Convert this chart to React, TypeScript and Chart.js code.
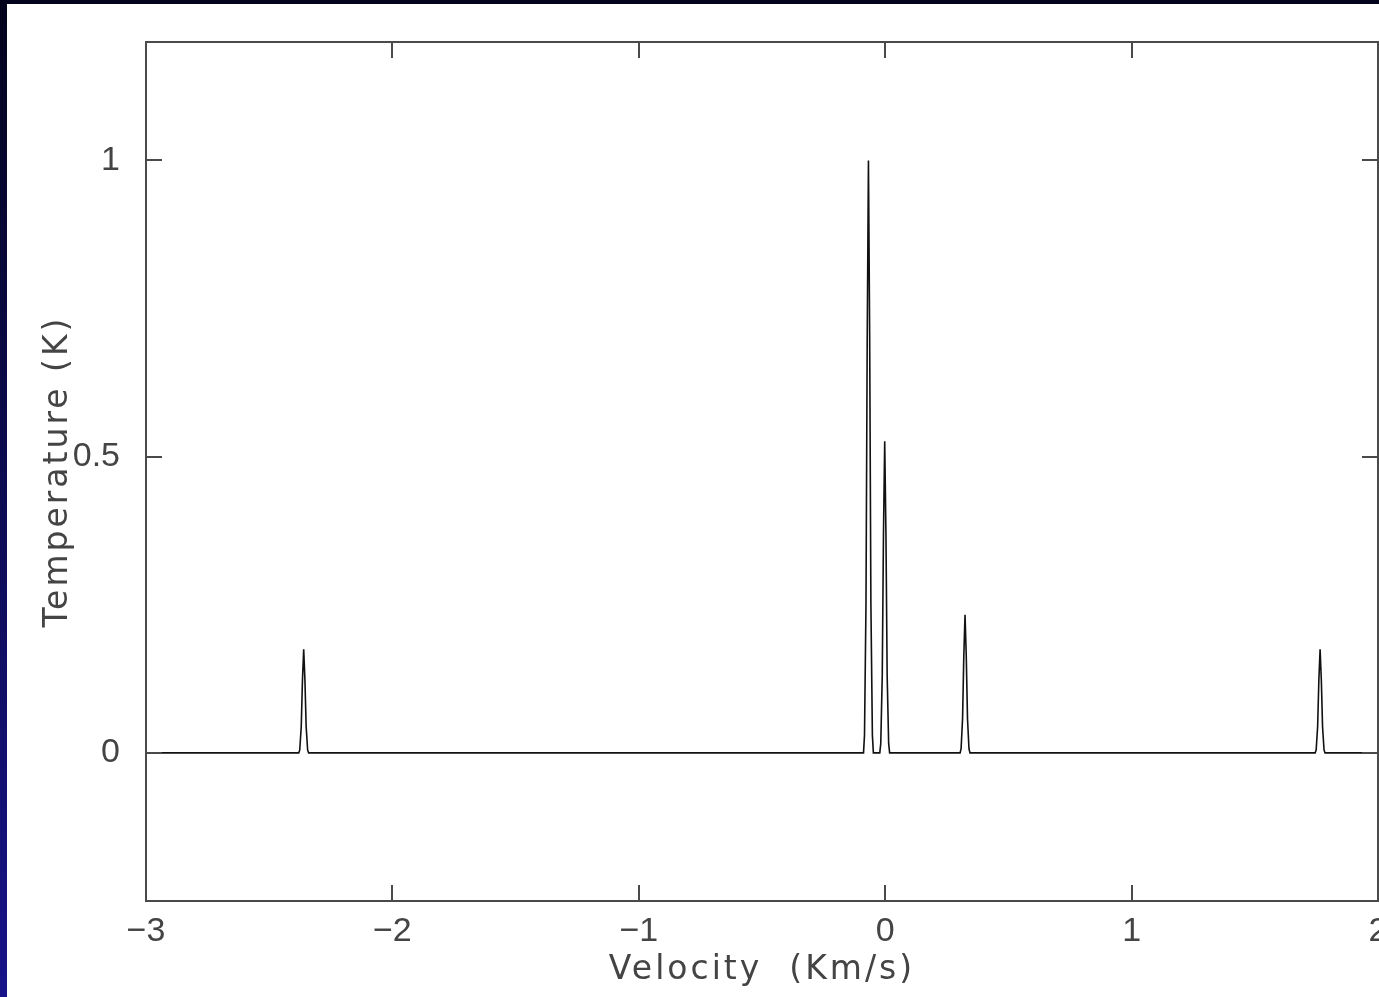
import React, { useEffect, useRef } from 'react';
import { Chart, registerables } from 'chart.js';

Chart.register(...registerables);

// Spectrum samples: velocity (km/s) and antenna temperature (K)
const velocity = [
  -3.0,
  -2.38, -2.376, -2.37, -2.365, -2.36, -2.355, -2.35, -2.344, -2.34,
  -0.088, -0.084, -0.078, -0.073, -0.068, -0.063, -0.058, -0.052, -0.048,
  -0.022, -0.018, -0.012, -0.007, -0.002, 0.003, 0.008, 0.014, 0.018,
  0.304, 0.308, 0.314, 0.319, 0.324, 0.329, 0.334, 0.34, 0.344,
  1.745, 1.749, 1.755, 1.76, 1.765, 1.77, 1.775, 1.781, 1.785,
  2.0,
];
const temperature = [
  0,
  0, 0.005, 0.044, 0.123, 0.175, 0.123, 0.044, 0.005, 0,
  0, 0.03, 0.25, 0.7, 1.0, 0.7, 0.25, 0.03, 0,
  0, 0.016, 0.13, 0.37, 0.526, 0.37, 0.13, 0.016, 0,
  0, 0.007, 0.058, 0.163, 0.233, 0.163, 0.058, 0.007, 0,
  0, 0.005, 0.044, 0.123, 0.175, 0.123, 0.044, 0.005, 0,
  0,
];

const xTicks = [-3, -2, -1, 0, 1, 2];
const yTicks = [0, 0.5, 1];
const xRange = [-3, 2];
const yRange = [-0.25, 1.2];
const xTitle = 'Velocity  (Km/s)';
const yTitle = 'Temperature (K)';

const fmt = (v: number) => (v < 0 ? '\u2212' + String(Math.abs(v)) : String(v));

const slidePlugin = {
  id: 'slide',
  beforeDraw(chart: any) {
    const { ctx, width, height } = chart;
    ctx.save();
    const g = ctx.createLinearGradient(0, 0, 0, height);
    g.addColorStop(0, '#03031c');
    g.addColorStop(1, '#17138a');
    ctx.fillStyle = g;
    ctx.fillRect(0, 0, width, height);
    ctx.fillStyle = '#ffffff';
    ctx.fillRect(7, 4, width - 7, height - 4);
    ctx.restore();
    (ctx as any).letterSpacing = '3px';
  },
  beforeDatasetsDraw(chart: any) {
    (chart.ctx as any).letterSpacing = '0px';
  },
  afterDraw(chart: any) {
    const { ctx, chartArea: a, scales } = chart;
    ctx.save();
    ctx.strokeStyle = '#4a4a4a';
    ctx.lineWidth = 2;
    ctx.strokeRect(a.left, a.top, a.right - a.left, a.bottom - a.top);
    ctx.beginPath();
    const L = 16;
    for (const t of scales.x.ticks) {
      const p = Math.round(scales.x.getPixelForValue(t.value));
      ctx.moveTo(p, a.bottom);
      ctx.lineTo(p, a.bottom - L);
      ctx.moveTo(p, a.top);
      ctx.lineTo(p, a.top + L);
    }
    for (const t of scales.y.ticks) {
      const p = Math.round(scales.y.getPixelForValue(t.value));
      ctx.moveTo(a.left, p);
      ctx.lineTo(a.left + L, p);
      ctx.moveTo(a.right, p);
      ctx.lineTo(a.right - L, p);
    }
    ctx.stroke();
    ctx.restore();
  },
};

export default function App() {
  const ref = useRef<HTMLCanvasElement | null>(null);

  useEffect(() => {
    if (!ref.current) return;
    const chart = new Chart(ref.current, {
      type: 'line',
      data: {
        datasets: [
          {
            data: velocity.map((v, i) => ({ x: v, y: temperature[i] })),
            borderColor: '#111111',
            borderWidth: 1.6,
            pointRadius: 0,
            tension: 0,
            fill: false,
          },
        ],
      },
      options: {
        animation: false,
        responsive: false,
        devicePixelRatio: 1,
        layout: { padding: { left: 0, top: 42, right: 1, bottom: 0 } },
        plugins: { legend: { display: false }, tooltip: { enabled: false } },
        scales: {
          x: {
            type: 'linear',
            min: xRange[0],
            max: xRange[1],
            grid: { display: false, drawTicks: false },
            border: { display: false },
            afterBuildTicks: (s: any) => {
              s.ticks = xTicks.map((v) => ({ value: v }));
            },
            afterFit: (s: any) => {
              s.height = 96;
              s.paddingLeft = 0;
              s.paddingRight = 0;
            },
            ticks: {
              z: 1,
              padding: 10,
              maxRotation: 0,
              autoSkip: false,
              color: '#444444',
              font: { family: 'Liberation Sans', size: 34 },
              callback: (v: any) => fmt(Number(v)),
            },
            title: {
              display: true,
              text: xTitle,
              color: '#444444',
              font: { family: 'DejaVu Sans', size: 33 },
              padding: { top: 0, bottom: 7 },
            },
          },
          y: {
            type: 'linear',
            min: yRange[0],
            max: yRange[1],
            grid: { display: false, drawTicks: false },
            border: { display: false },
            afterBuildTicks: (s: any) => {
              s.ticks = yTicks.map((v) => ({ value: v }));
            },
            afterFit: (s: any) => {
              s.width = 146;
              s.paddingTop = 0;
              s.paddingBottom = 0;
            },
            ticks: {
              z: 1,
              padding: 26,
              autoSkip: false,
              color: '#444444',
              font: { family: 'Liberation Sans', size: 34 },
              callback: (v: any) => fmt(Number(v)),
            },
            title: {
              display: true,
              text: yTitle,
              color: '#444444',
              font: { family: 'DejaVu Sans', size: 33 },
              padding: { top: 39, bottom: 0 },
            },
          },
        },
      },
      plugins: [slidePlugin],
    });
    return () => chart.destroy();
  }, []);

  return (
    <canvas
      ref={ref}
      width={1379}
      height={997}
      style={{ position: 'fixed', left: 0, top: 0, width: '1379px', height: '997px', display: 'block' }}
    />
  );
}
